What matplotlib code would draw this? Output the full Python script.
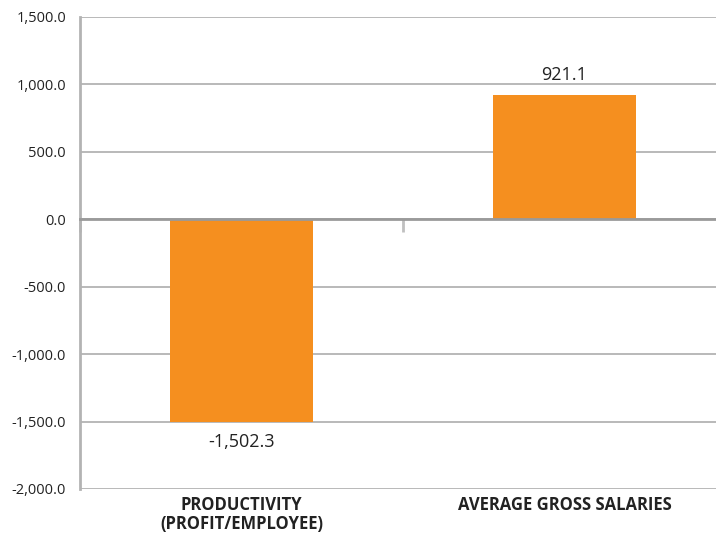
import matplotlib.pyplot as plt
import matplotlib.transforms as mtransforms
from matplotlib.ticker import FuncFormatter

# chart data
categories = ['PRODUCTIVITY\n(PROFIT/EMPLOYEE)', 'AVERAGE GROSS SALARIES']
values = [-1502.3, 921.1]
y_ticks = [-2000, -1500, -1000, -500, 0, 500, 1000, 1500]

bar_color = '#F58F1F'
grid_color = '#b3b3b3'
plt.rcParams['font.family'] = ['Open Sans', 'DejaVu Sans']

fig = plt.figure(figsize=(7.16, 5.37), dpi=100)
ax = fig.add_axes([80 / 716, 1 - 489 / 537, 646 / 716, (489 - 17) / 537])

x = list(range(len(categories)))
ax.bar(x, values, width=0.44, color=bar_color, zorder=3)
ax.set_xlim(-0.5, len(categories) - 0.5)
ax.set_ylim(-2000, 1500)

# y axis
ax.set_yticks(y_ticks)
ax.yaxis.set_major_formatter(FuncFormatter(lambda v, p: f'{v:,.1f}'))
ax.tick_params(axis='y', length=0, pad=10, labelsize=10.5, labelcolor='#222222')
ax.grid(axis='y', color=grid_color, linewidth=1.3, zorder=0)

# spines
for s in ['top', 'right']:
    ax.spines[s].set_visible(False)
ax.spines['left'].set_color(grid_color)
ax.spines['left'].set_linewidth(2)
ax.spines['bottom'].set_position(('data', 0))
ax.spines['bottom'].set_color('#9a9a9a')
ax.spines['bottom'].set_linewidth(2)
ax.spines['bottom'].set_zorder(4)

# category boundary ticks on the zero line
ax.set_xticks(x)
ax.set_xticklabels([])
ax.tick_params(axis='x', which='major', length=0)
ax.set_xticks([i - 0.5 for i in x], minor=True)
ax.tick_params(axis='x', which='minor', length=9, width=2, color='#c0c0c0', direction='out')

# category labels below the plot
trans = mtransforms.blended_transform_factory(ax.transData, ax.transAxes)
for xi, cat in zip(x, categories):
    ax.text(xi, -0.015, cat, transform=trans, ha='center', va='top',
            fontsize=12, fontweight='bold', color='#222222', linespacing=1.1)

# value labels
for xi, v in zip(x, values):
    ax.annotate(f'{v:,.1f}', (xi, v), xytext=(0, 8 if v > 0 else -8),
                textcoords='offset points', ha='center',
                va='bottom' if v > 0 else 'top', fontsize=13, color='#222222')

fig.savefig('out.png', dpi=100)
